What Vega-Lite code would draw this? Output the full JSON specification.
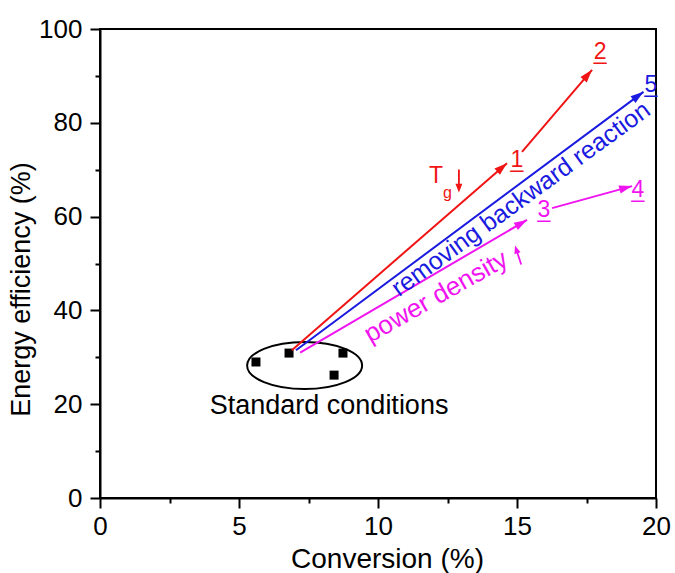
{
  "$schema": "https://vega.github.io/schema/vega-lite/v6.json",
  "width": 556,
  "height": 469,
  "autosize": {"type": "none"},
  "padding": {"left": 100, "top": 29, "right": 19, "bottom": 75},
  "background": "white",
  "config": {
    "font": "Liberation Sans",
    "view": {"stroke": "black", "strokeWidth": 2},
    "axis": {
      "domainColor": "black", "domainWidth": 2, "tickColor": "black", "tickWidth": 2,
      "labelFont": "Liberation Sans", "titleFont": "Liberation Sans",
      "labelFontSize": 26, "titleFontSize": 27, "labelColor": "black", "titleColor": "black",
      "titleFontWeight": "normal", "grid": false, "labelOverlap": false, "labelFlush": false
    }
  },
  "datasets": {
    "standard": [
      {"conversion": 5.61, "efficiency": 29.0},
      {"conversion": 6.80, "efficiency": 30.9},
      {"conversion": 8.74, "efficiency": 30.9},
      {"conversion": 8.42, "efficiency": 26.2}
    ],
    "ellipse": [{"conversion": 7.36, "efficiency": 28.25}],
    "paths": [
      {"series": "Tg", "seg": "r1", "point": "start", "conversion": 6.9, "efficiency": 31.5},
      {"series": "Tg", "seg": "r1", "point": "end", "conversion": 14.64, "efficiency": 71.4},
      {"series": "Tg", "seg": "r2", "point": "start", "conversion": 15.18, "efficiency": 73.8},
      {"series": "Tg", "seg": "r2", "point": "end", "conversion": 17.70, "efficiency": 91.3},
      {"series": "backward", "seg": "b1", "point": "start", "conversion": 7.05, "efficiency": 31.5},
      {"series": "backward", "seg": "b1", "point": "end", "conversion": 19.55, "efficiency": 86.6},
      {"series": "power", "seg": "p1", "point": "start", "conversion": 7.2, "efficiency": 31.0},
      {"series": "power", "seg": "p1", "point": "end", "conversion": 15.36, "efficiency": 59.3},
      {"series": "power", "seg": "p2", "point": "start", "conversion": 16.26, "efficiency": 61.8},
      {"series": "power", "seg": "p2", "point": "end", "conversion": 19.14, "efficiency": 66.5}
    ],
    "cases": [
      {"case": "1", "series": "Tg", "conversion": 15.0, "efficiency": 72.1},
      {"case": "2", "series": "Tg", "conversion": 17.99, "efficiency": 95.1},
      {"case": "3", "series": "power", "conversion": 15.97, "efficiency": 61.4},
      {"case": "4", "series": "power", "conversion": 19.35, "efficiency": 65.7},
      {"case": "5", "series": "backward", "conversion": 19.82, "efficiency": 88.0}
    ],
    "notes": [
      {"note": "T", "series": "Tg", "conversion": 12.09, "efficiency": 68.6},
      {"note": "g", "series": "Tg", "conversion": 12.5, "efficiency": 65.0},
      {"note": "down", "series": "Tg", "conversion": 12.91, "efficiency": 67.6},
      {"note": "removing backward reaction", "series": "backward", "conversion": 15.14, "efficiency": 63.75},
      {"note": "power density", "series": "power", "conversion": 12.09, "efficiency": 42.9},
      {"note": "up", "series": "power", "conversion": 15.04, "efficiency": 51.8},
      {"note": "Standard conditions", "series": "standard", "conversion": 8.24, "efficiency": 19.6}
    ]
  },
  "encoding": {
    "x": {
      "field": "conversion", "type": "quantitative",
      "scale": {"domain": [0, 20], "nice": false, "zero": false},
      "axis": {
        "title": "Conversion (%)",
        "values": [0, 2.5, 5, 7.5, 10, 12.5, 15, 17.5, 20],
        "labelExpr": "datum.value % 5 == 0 ? datum.label : ''",
        "tickSize": {"condition": {"test": "datum.value % 5 != 0", "value": 5}, "value": 10},
        "labelPadding": 5,
        "titlePadding": 6,
        "titleFontSize": 28,
        "titleX": 287
      }
    },
    "y": {
      "field": "efficiency", "type": "quantitative",
      "scale": {"domain": [0, 100], "nice": false, "zero": false},
      "axis": {
        "title": "Energy efficiency (%)",
        "values": [0, 10, 20, 30, 40, 50, 60, 70, 80, 90, 100],
        "labelExpr": "datum.value % 20 == 0 ? datum.label : ''",
        "tickSize": {"condition": {"test": "datum.value % 20 != 0", "value": 5}, "value": 10},
        "labelPadding": 8,
        "titlePadding": 3,
        "titleY": 260
      }
    }
  },
  "layer": [
    {
      "data": {"name": "ellipse"},
      "mark": {
        "type": "point", "filled": false, "stroke": "black", "strokeWidth": 2, "opacity": 1, "size": 13225,
        "shape": "M-1,0 C-1,-0.2264 -0.5523,-0.41 0,-0.41 C0.5523,-0.41 1,-0.2264 1,0 C1,0.2264 0.5523,0.41 0,0.41 C-0.5523,0.41 -1,0.2264 -1,0 Z"
      }
    },
    {
      "data": {"name": "standard"},
      "mark": {"type": "square", "size": 81, "color": "black", "opacity": 1}
    },
    {
      "data": {"name": "paths"},
      "mark": {"type": "line", "strokeWidth": 2},
      "encoding": {
        "detail": {"field": "seg"},
        "order": {"field": "point"},
        "color": {"field": "series", "type": "nominal", "scale": {"domain": ["Tg", "backward", "power"], "range": ["#f01414", "#1a1ae0", "#f014f0"]}, "legend": null}
      }
    },
    {
      "data": {"name": "paths"},
      "transform": [{"filter": "datum.seg == 'r1' && datum.point == 'end'"}],
      "mark": {"type": "point", "filled": true, "opacity": 1, "size": 676, "angle": 49, "shape": "M0,0 L-0.32,1 L0.32,1 Z"},
      "encoding": {"color": {"field": "series", "type": "nominal", "legend": null}}
    },
    {
      "data": {"name": "paths"},
      "transform": [{"filter": "datum.seg == 'r2' && datum.point == 'end'"}],
      "mark": {"type": "point", "filled": true, "opacity": 1, "size": 676, "angle": 40.5, "shape": "M0,0 L-0.32,1 L0.32,1 Z"},
      "encoding": {"color": {"field": "series", "type": "nominal", "legend": null}}
    },
    {
      "data": {"name": "paths"},
      "transform": [{"filter": "datum.seg == 'b1' && datum.point == 'end'"}],
      "mark": {"type": "point", "filled": true, "opacity": 1, "size": 676, "angle": 53.6, "shape": "M0,0 L-0.32,1 L0.32,1 Z"},
      "encoding": {"color": {"field": "series", "type": "nominal", "legend": null}}
    },
    {
      "data": {"name": "paths"},
      "transform": [{"filter": "datum.seg == 'p1' && datum.point == 'end'"}],
      "mark": {"type": "point", "filled": true, "opacity": 1, "size": 676, "angle": 59.7, "shape": "M0,0 L-0.32,1 L0.32,1 Z"},
      "encoding": {"color": {"field": "series", "type": "nominal", "legend": null}}
    },
    {
      "data": {"name": "paths"},
      "transform": [{"filter": "datum.seg == 'p2' && datum.point == 'end'"}],
      "mark": {"type": "point", "filled": true, "opacity": 1, "size": 676, "angle": 74.6, "shape": "M0,0 L-0.32,1 L0.32,1 Z"},
      "encoding": {"color": {"field": "series", "type": "nominal", "legend": null}}
    },
    {
      "data": {"name": "cases"},
      "mark": {"type": "text", "fontSize": 23, "align": "center", "baseline": "middle"},
      "encoding": {
        "text": {"field": "case"},
        "color": {"field": "series", "type": "nominal", "legend": null}
      }
    },
    {
      "data": {"name": "cases"},
      "mark": {"type": "text", "fontSize": 23, "align": "center", "baseline": "middle", "text": "_"},
      "encoding": {
        "color": {"field": "series", "type": "nominal", "legend": null}
      }
    },
    {
      "data": {"name": "notes"},
      "transform": [{"filter": "datum.note == 'T'"}],
      "mark": {"type": "text", "fontSize": 23, "align": "center", "baseline": "middle"},
      "encoding": {"text": {"field": "note"}, "color": {"field": "series", "type": "nominal", "legend": null}}
    },
    {
      "data": {"name": "notes"},
      "transform": [{"filter": "datum.note == 'g'"}],
      "mark": {"type": "text", "fontSize": 16, "align": "center", "baseline": "middle"},
      "encoding": {"text": {"field": "note"}, "color": {"field": "series", "type": "nominal", "legend": null}}
    },
    {
      "data": {"name": "notes"},
      "transform": [{"filter": "datum.note == 'down'"}],
      "mark": {"type": "point", "filled": true, "opacity": 1, "size": 529, "angle": 0, "shape": "M-0.08,-1 L0.08,-1 L0.08,0.25 L0.3,0.25 L0,1 L-0.3,0.25 L-0.08,0.25 Z"},
      "encoding": {"color": {"field": "series", "type": "nominal", "legend": null}}
    },
    {
      "data": {"name": "notes"},
      "transform": [{"filter": "datum.note == 'removing backward reaction'"}],
      "mark": {"type": "text", "fontSize": 25, "align": "center", "baseline": "middle", "angle": -36},
      "encoding": {"text": {"field": "note"}, "color": {"field": "series", "type": "nominal", "legend": null}}
    },
    {
      "data": {"name": "notes"},
      "transform": [{"filter": "datum.note == 'power density'"}],
      "mark": {"type": "text", "fontSize": 26, "align": "center", "baseline": "middle", "angle": -29.5},
      "encoding": {"text": {"field": "note"}, "color": {"field": "series", "type": "nominal", "legend": null}}
    },
    {
      "data": {"name": "notes"},
      "transform": [{"filter": "datum.note == 'up'"}],
      "mark": {"type": "point", "filled": true, "opacity": 1, "size": 400, "angle": 162, "shape": "M-0.09,-1 L0.09,-1 L0.09,0.2 L0.32,0.2 L0,1 L-0.32,0.2 L-0.09,0.2 Z"},
      "encoding": {"color": {"field": "series", "type": "nominal", "legend": null}}
    },
    {
      "data": {"name": "notes"},
      "transform": [{"filter": "datum.note == 'Standard conditions'"}],
      "mark": {"type": "text", "fontSize": 27, "align": "center", "baseline": "middle", "color": "black"},
      "encoding": {"text": {"field": "note"}}
    }
  ]
}
